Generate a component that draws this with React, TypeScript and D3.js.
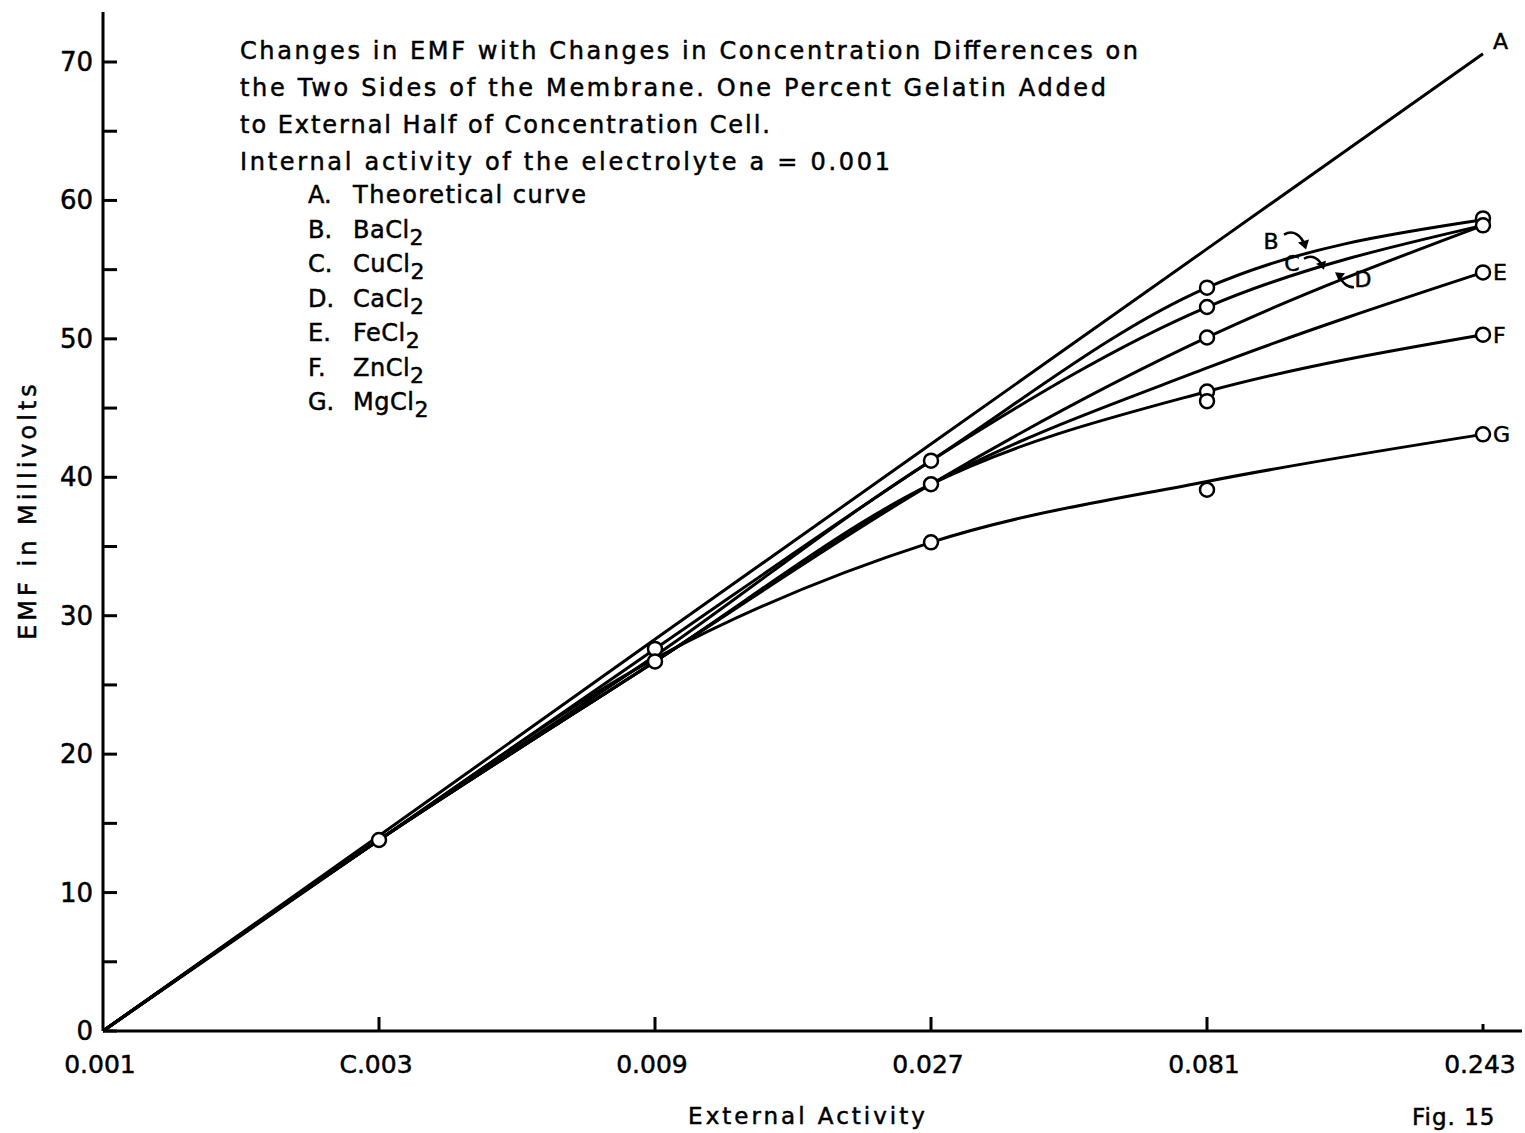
import React from "react";
import * as d3 from "d3";

const activities = [0.001, 0.003, 0.009, 0.027, 0.081, 0.243];
const xTickLabels = ["0.001", "C.003", "0.009", "0.027", "0.081", "0.243"];
const yTicksMajor = [0, 10, 20, 30, 40, 50, 60, 70];
const yTicksAll = [0, 5, 10, 15, 20, 25, 30, 35, 40, 45, 50, 55, 60, 65, 70];

// curve values (EMF, mV) at each activity
const curveA = [0, 14.1, 28.3, 42.4, 56.5, 70.6];
const curveB = [0, 13.8, 27.6, 41.2, 53.7, 58.6];
const curveC = [0, 13.8, 27.1, 41.2, 52.3, 58.2];
const curveD = [0, 13.8, 26.7, 39.5, 50.1, 58.2];
const curveE = [0, 13.8, 26.7, 39.5, 47.9, 54.8];
const curveF = [0, 13.8, 26.7, 39.5, 46.2, 50.3];
const curveG = [0, 13.8, 26.9, 35.3, 39.7, 43.1];

// observed points (circles)
const pointX = [0.003, 0.009, 0.009, 0.027, 0.027, 0.027, 0.081, 0.081, 0.081, 0.081, 0.081, 0.081, 0.243, 0.243, 0.243, 0.243, 0.243];
const pointY = [13.8, 27.6, 26.7, 41.2, 39.5, 35.3, 53.7, 52.3, 50.1, 46.2, 45.5, 39.1, 58.7, 58.2, 54.8, 50.3, 43.1];

const endLabels = ["A", "E", "F", "G"];
const endLabelY = [71.5, 54.8, 50.3, 43.1];

const titleLines = [
  "Changes in EMF with Changes in Concentration Differences on",
  "the Two Sides of the Membrane. One Percent Gelatin Added",
  "to External Half of Concentration Cell.",
  "Internal activity of the electrolyte a = 0.001",
];
const titleWidths = [898, 866, 530, 650];

const legendKeys = ["A.", "B.", "C.", "D.", "E.", "F.", "G."];
const legendNames = ["Theoretical curve", "BaCl", "CuCl", "CaCl", "FeCl", "ZnCl", "MgCl"];
const legendSub = ["", "2", "2", "2", "2", "2", "2"];

const annLabels = ["B", "C", "D"];
const annX = [0.1045, 0.1136, 0.1507];
const annY = [57.1, 55.5, 54.3];

const FONT = "'DejaVu Sans', 'Liberation Sans', sans-serif";
const TS = { stroke: "#000", strokeWidth: 0.5 };

export default function App() {
  const x = d3.scaleLog().domain([0.001, 0.243]).range([103, 1483]);
  const y = d3.scaleLinear().domain([0, 70]).range([1031, 62]);
  const line = d3
    .line<number>()
    .x((_, i) => x(activities[i]))
    .y((d) => y(d))
    .curve(d3.curveMonotoneX);
  const straight = d3
    .line<number>()
    .x((_, i) => x(activities[i]))
    .y((d) => y(d));
  const curves = [curveB, curveC, curveD, curveE, curveF, curveG];

  const annArrows = [
    (px: number, py: number) => `M${px + 13},${py - 6} C${px + 22},${py - 11} ${px + 30},${py - 6} ${px + 34},${py + 5}`,
    (px: number, py: number) => `M${px + 12},${py - 4} C${px + 20},${py - 9} ${px + 27},${py - 4} ${px + 31},${py + 4}`,
    (px: number, py: number) => `M${px - 9},${py + 8} C${px - 16},${py + 8} ${px - 20},${py + 4} ${px - 25},${py - 5}`,
  ];
  const annHeads = [
    (px: number, py: number) => `M${px + 27},${py + 2} L${px + 35},${py + 9} L${px + 38},${py - 1} Z`,
    (px: number, py: number) => `M${px + 24},${py + 1} L${px + 32},${py + 7} L${px + 34},${py - 2} Z`,
    (px: number, py: number) => `M${px - 18},${py - 6} L${px - 28},${py - 7} L${px - 24},${py + 2} Z`,
  ];

  return (
    <svg
      width={1525}
      height={1133}
      style={{ display: "block", background: "#fff", position: "absolute", left: 0, top: 0 }}
    >
      <rect width={1525} height={1133} fill="#fff" />
      {/* axes */}
      <line x1={103} y1={12} x2={103} y2={1031} stroke="#000" strokeWidth={3} />
      <line x1={103} y1={1031} x2={1522} y2={1031} stroke="#000" strokeWidth={3} />
      {yTicksAll.map((t) => (
        <line key={"yt" + t} x1={103} x2={117} y1={y(t)} y2={y(t)} stroke="#000" strokeWidth={3} />
      ))}
      {yTicksMajor.map((t) => (
        <text key={"yl" + t} x={93} y={y(t) + 9} textAnchor="end" fontFamily={FONT} fontSize={26} fill="#000" {...TS}>
          {t}
        </text>
      ))}
      {activities.slice(1).map((a, i) => (
        <line key={"xt" + a} x1={x(a)} x2={x(a)} y1={i === 4 ? 1024 : 1017} y2={1031} stroke="#000" strokeWidth={3} />
      ))}
      {activities.map((a, i) => (
        <text key={"xl" + a} x={x(a) - 3} y={1073} textAnchor="middle" fontFamily={FONT} fontSize={25} fill="#000" {...TS}>
          {xTickLabels[i]}
        </text>
      ))}
      <text
        transform="translate(36,510) rotate(-90)"
        textAnchor="middle"
        fontFamily={FONT}
        fontSize={24}
        letterSpacing={4}
        fill="#000"
        {...TS}
      >
        EMF in Millivolts
      </text>
      <text x={808} y={1124} textAnchor="middle" fontFamily={FONT} fontSize={23} letterSpacing={3} fill="#000" {...TS}>
        External Activity
      </text>
      <text x={1412} y={1125} fontFamily={FONT} fontSize={23} letterSpacing={1} fill="#000" {...TS}>
        Fig. 15
      </text>

      {/* title */}
      {titleLines.map((t, i) => (
        <text
          key={"tt" + i}
          x={240}
          y={59 + i * 37}
          fontFamily={FONT}
          fontSize={24}
          textLength={titleWidths[i]}
          lengthAdjust="spacing"
          fill="#000"
          {...TS}
        >
          {t}
        </text>
      ))}
      {legendKeys.map((k, i) => (
        <g key={"lg" + i}>
          <text x={308} y={203 + i * 34.5} fontFamily={FONT} fontSize={24} fill="#000" {...TS}>
            {k}
          </text>
          <text x={353} y={203 + i * 34.5} fontFamily={FONT} fontSize={24} letterSpacing={i === 0 ? 1.5 : 0.5} fill="#000" {...TS}>
            {legendNames[i]}
            {legendSub[i] ? (
              <tspan dy={7} fontSize={22}>
                {legendSub[i]}
              </tspan>
            ) : null}
          </text>
        </g>
      ))}

      {/* curves */}
      <path d={straight(curveA) || ""} fill="none" stroke="#000" strokeWidth={3} />
      {curves.map((c, i) => (
        <path key={"c" + i} d={line(c) || ""} fill="none" stroke="#000" strokeWidth={3} />
      ))}
      {pointX.map((px, i) => (
        <circle key={"p" + i} cx={x(px)} cy={y(pointY[i])} r={7} fill="#fff" stroke="#000" strokeWidth={2.5} />
      ))}

      {/* end labels */}
      {endLabels.map((l, i) => (
        <text key={"el" + l} x={1493} y={y(endLabelY[i]) + 8} fontFamily={FONT} fontSize={22} fill="#000" {...TS}>
          {l}
        </text>
      ))}

      {/* B, C, D annotations */}
      {annLabels.map((l, i) => {
        const px = x(annX[i]);
        const py = y(annY[i]);
        return (
          <g key={"an" + l}>
            <text x={px} y={py + 8} textAnchor="middle" fontFamily={FONT} fontSize={22} fill="#000" {...TS}>
              {l}
            </text>
            <path d={annArrows[i](px, py)} fill="none" stroke="#000" strokeWidth={2.5} />
            <path d={annHeads[i](px, py)} fill="#000" />
          </g>
        );
      })}
    </svg>
  );
}
